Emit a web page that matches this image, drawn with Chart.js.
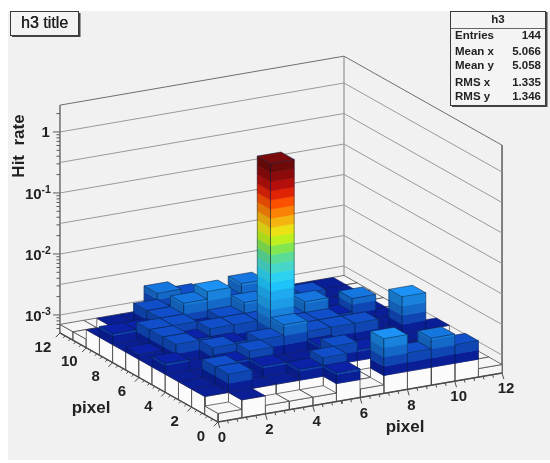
<!DOCTYPE html>
<html>
<head>
<meta charset="utf-8">
<style>
body { margin: 0; background: #fff; }
canvas { display: block; filter: blur(0.55px); }
</style>
<script src="https://cdn.jsdelivr.net/npm/chart.js@4"></script>
</head>
<body>
<canvas id="chart" width="550" height="463"></canvas>
<script>
// hit rate per pixel, in units of 1e-3, rows = y bin 0..11, columns = x bin 0..11
const hitRows = [
  [0, 1, 0, 0, 0, 1.5, 0, 4, 2, 3, 2, 0],
  [1, 2, 1, 1, 1.5, 2, 0, 0, 1, 1, 1.5, 0],
  [1, 2, 1, 1.5, 1, 1, 2, 1.5, 1, 1, 1, 0],
  [1, 1, 1.5, 2, 1, 1, 1.5, 1, 1, 1, 1, 0],
  [1.5, 1, 2, 1, 2, 3, 2, 2, 2, 1, 4, 1],
  [1, 2, 1, 1.5, 1, 1000, 2, 2, 1, 1, 1, 0],
  [1.2, 2, 1.5, 2, 2, 2, 2, 3, 1.5, 2.5, 1, 0],
  [1, 2, 2, 1.5, 2, 3, 2, 2, 1, 1, 1, 0],
  [1.5, 1.5, 2, 3, 4, 2, 1, 1, 2, 1, 1, 0],
  [1, 1, 2, 1.5, 2, 2, 3, 1.5, 1, 1, 1, 0],
  [0, 1, 1, 2.5, 2, 1.5, 1, 1, 1, 1, 1, 0],
  [0, 0, 0, 0, 0, 0, 0, 0, 0, 0, 0, 0]
];
const xTicks = [0, 2, 4, 6, 8, 10, 12];
const yTicks = [0, 2, 4, 6, 8, 10, 12];
const zTicks = [0, -1, -2, -3];
const statNames = ['Entries', 'Mean x', 'Mean y', 'RMS x', 'RMS y'];
const statValues = ['144', '5.066', '5.058', '1.335', '1.346'];
// 20 contour colours, bottom to top
const palette = ['#0a1e96', '#0f46b4', '#1469c8', '#1982dc', '#1e9be6', '#1eaaf0', '#1ec3fa', '#2dd2f0',
  '#46d7c8', '#5adc96', '#82e650', '#bef01e', '#ebe114', '#f5b40f', '#fa8205', '#fa5000',
  '#e12305', '#b40f0a', '#8c0a0a', '#6e0a0a'];

const zFloor = -3.295, zTop = 0.44, zColor = -3, zEmpty = -3.155;

// oblique view of the lego box
function project(i, j, lz) {
  return {
    x: 218 + 23.67 * i - 13.17 * j,
    y: 422 - 4.08 * i - 7.42 * j - (lz - zFloor) * 61
  };
}

function shade(hex, f) {
  const n = parseInt(hex.slice(1), 16);
  const c = [n >> 16, (n >> 8) & 255, n & 255].map(v => Math.min(255, Math.round(v * f)));
  return `rgb(${c[0]},${c[1]},${c[2]})`;
}

const sets = [];
function poly(pts, fill, stroke, width) {
  const closed = fill ? pts.concat([pts[0]]) : pts;
  sets.push({
    data: closed,
    showLine: true,
    pointRadius: 0,
    fill: fill ? 'shape' : false,
    backgroundColor: fill || 'transparent',
    borderColor: stroke || fill,
    borderWidth: width === undefined ? 0.6 : width,
    tension: 0,
    clip: false
  });
}
const P = project;

// back walls and floor
const wallLine = '#8a8a8a';
poly([P(0, 12, zFloor), P(0, 12, zTop), P(12, 12, zTop), P(12, 0, zTop), P(12, 0, zFloor)], null, '#6f6f6f', 1);
poly([P(12, 12, zFloor), P(12, 12, zTop)], null, '#808080', 1);
poly([P(0, 12, zFloor), P(12, 12, zFloor), P(12, 0, zFloor)], null, wallLine, 1);
for (let lz = -3; lz <= 0; lz += 0.5) {
  poly([P(0, 12, lz), P(12, 12, lz), P(12, 0, lz)], null, '#9a9a9a', 1);
}

// bars, back to front
function box(i, j, lz) {
  if (lz <= zColor) {
    // white foot only
    const empty = lz === zEmpty;
    const white = empty ? '#f6f6f6' : '#fbfbfb';
    const line = 'rgba(70,70,70,.75)';
    poly([P(i, j, zFloor), P(i + 1, j, zFloor), P(i + 1, j, lz), P(i, j, lz)], white, line, 1);
    poly([P(i, j, zFloor), P(i, j + 1, zFloor), P(i, j + 1, lz), P(i, j, lz)], white, line, 1);
    poly([P(i, j, lz), P(i + 1, j, lz), P(i + 1, j + 1, lz), P(i, j + 1, lz)],
      empty ? '#f6f6f6' : palette[0], empty ? line : 'rgba(10,20,90,.7)', empty ? 1 : 0.7);
    return;
  }
  poly([P(i, j, zFloor), P(i + 1, j, zFloor), P(i + 1, j, zColor), P(i, j, zColor)], '#fbfbfb', 'rgba(70,70,70,.75)', 1);
  poly([P(i, j, zFloor), P(i, j + 1, zFloor), P(i, j + 1, zColor), P(i, j, zColor)], '#fbfbfb', 'rgba(70,70,70,.75)', 1);
  const step = 3 / palette.length;
  let top = 0;
  palette.forEach((c, n) => {
    const lo = zColor + n * step;
    if (lo >= lz) return;
    const hi = Math.min(lz, lo + step);
    // a sliver of the next contour should not colour the top face
    if (hi - lo > 0.05) top = n;
    poly([P(i, j, lo), P(i + 1, j, lo), P(i + 1, j, hi), P(i, j, hi)], shade(c, 1.0));
    poly([P(i, j, lo), P(i, j + 1, lo), P(i, j + 1, hi), P(i, j, hi)], shade(c, 0.9));
  });
  const edge = 'rgba(10,30,60,.6)';
  poly([P(i, j, zColor), P(i, j, lz)], null, edge, 1);
  poly([P(i + 1, j, zColor), P(i + 1, j, lz)], null, edge, 0.7);
  poly([P(i, j + 1, zColor), P(i, j + 1, lz)], null, edge, 0.7);
  poly([P(i, j, lz), P(i + 1, j, lz), P(i + 1, j + 1, lz), P(i, j + 1, lz)], shade(palette[top], 1.12), edge, 0.9);
}
for (let i = 11; i >= 0; i--) {
  for (let j = 11; j >= 0; j--) {
    const v = hitRows[j][i];
    box(i, j, v > 0 ? Math.log10(v * 1e-3) : zEmpty);
  }
}

// axes
poly([P(0, 12, zFloor), P(0, 0, zFloor), P(12, 0, zFloor)], null, '#4a4a4a', 1.4);
poly([P(0, 12, zFloor), P(0, 12, zTop)], null, '#6f6f6f', 1);
for (let v = 0; v <= 12.01; v += 0.4) {
  const major = Math.abs(v / 2 - Math.round(v / 2)) < 0.01;
  const len = major ? 6 : 3;
  const a = P(v, 0, zFloor), b = P(0, v, zFloor);
  poly([a, { x: a.x + len * 0.3, y: a.y + len }], null, '#4a4a4a', 1);
  poly([b, { x: b.x - len * 0.7, y: b.y + len * 0.7 }], null, '#4a4a4a', 1);
}
for (let d = -4; d <= 0; d++) {
  for (let m = 1; m <= 9; m++) {
    const lz = d + Math.log10(m);
    if (lz < zFloor || lz > zTop) continue;
    const a = P(0, 12, lz);
    poly([a, { x: a.x - (m === 1 ? 7 : 3.5), y: a.y }], null, '#5a5a5a', 1);
  }
}

// text and paper go through a small plugin
const paper = {
  id: 'paper',
  beforeDraw(chart) {
    const c = chart.ctx;
    c.fillStyle = '#f1f1f1';
    c.fillRect(8, 11, 542, 449);
  },
  afterDraw(chart) {
    const c = chart.ctx;
    const ink = '#222';
    c.textBaseline = 'middle';

    // title box
    c.fillStyle = '#f4f4f4';
    c.fillRect(11, 12, 68, 24);
    c.strokeStyle = '#3a3a3a';
    c.lineWidth = 1;
    c.strokeRect(10.5, 11.5, 68, 24);
    c.fillStyle = '#444';
    c.fillRect(79, 13, 1.5, 24);
    c.fillRect(12, 35.5, 68, 1.5);
    c.fillStyle = ink;
    c.font = '16px "Liberation Sans"';
    c.textAlign = 'center';
    c.fillText('h3 title', 44.5, 24);
    c.fillText('h3 title', 44.8, 24);

    // stats box
    c.fillStyle = '#f4f4f4';
    c.fillRect(451, 11, 95, 94);
    c.strokeStyle = '#3a3a3a';
    c.strokeRect(450.5, 11.5, 95, 94);
    c.fillStyle = '#444';
    c.fillRect(546, 12, 1.5, 95);
    c.fillRect(452, 105.5, 95, 1.5);
    c.beginPath();
    c.moveTo(451, 28.5);
    c.lineTo(545, 28.5);
    c.strokeStyle = '#666';
    c.stroke();
    c.fillStyle = ink;
    c.font = 'bold 11.5px "Liberation Sans"';
    c.fillText('h3', 498, 20);
    const rows = [35.5, 52, 66, 83, 97];
    statNames.forEach((s, n) => {
      c.textAlign = 'left';
      c.fillText(s, 455, rows[n]);
      c.textAlign = 'right';
      c.fillText(statValues[n], 541, rows[n]);
    });

    // axis titles
    c.font = 'bold 17px "Liberation Sans"';
    c.textAlign = 'center';
    c.fillText('pixel', 91, 408);
    c.fillText('pixel', 405, 427);
    c.save();
    c.translate(19, 146);
    c.rotate(-Math.PI / 2);
    c.fillText('Hit  rate', 0, 0);
    c.restore();

    // tick labels
    c.font = 'bold 15px "Liberation Sans"';
    xTicks.forEach(t => {
      const p = P(t, 0, zFloor);
      c.fillText(String(t), p.x + 4, p.y + 16);
    });
    yTicks.forEach(t => {
      const p = P(0, t, zFloor);
      c.fillText(String(t), p.x - 17, p.y + 14.5);
    });
    zTicks.forEach(d => {
      const p = P(0, 12, d);
      c.textAlign = 'right';
      if (d === 0) {
        c.fillText('1', p.x - 10, p.y + 1);
        return;
      }
      c.font = 'bold 10.5px "Liberation Sans"';
      c.fillText(String(d), p.x - 9, p.y - 3);
      const w = c.measureText(String(d)).width;
      c.font = 'bold 15px "Liberation Sans"';
      c.fillText('10', p.x - 9 - w, p.y + 2);
    });
  }
};

new Chart(document.getElementById('chart'), {
  type: 'scatter',
  data: { datasets: sets.reverse() },
  options: {
    responsive: false,
    animation: false,
    layout: { padding: 0 },
    plugins: { legend: { display: false }, tooltip: { enabled: false } },
    scales: {
      x: { type: 'linear', display: false, min: 0, max: 550 },
      y: { type: 'linear', display: false, min: 0, max: 463, reverse: true }
    }
  },
  plugins: [paper]
});
</script>
</body>
</html>
